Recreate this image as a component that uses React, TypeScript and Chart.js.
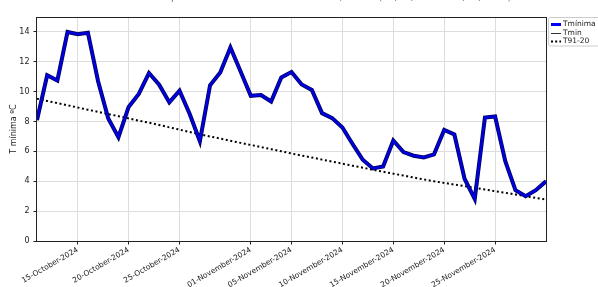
import React, { useEffect, useRef } from 'react';
import { Chart, registerables } from 'chart.js';
Chart.register(...registerables);

const days = [
  '11-Oct', '12-Oct', '13-Oct', '14-Oct', '15-Oct', '16-Oct', '17-Oct', '18-Oct', '19-Oct', '20-Oct',
  '21-Oct', '22-Oct', '23-Oct', '24-Oct', '25-Oct', '26-Oct', '27-Oct', '28-Oct', '29-Oct', '30-Oct',
  '31-Oct', '01-Nov', '02-Nov', '03-Nov', '04-Nov', '05-Nov', '06-Nov', '07-Nov', '08-Nov', '09-Nov',
  '10-Nov', '11-Nov', '12-Nov', '13-Nov', '14-Nov', '15-Nov', '16-Nov', '17-Nov', '18-Nov', '19-Nov',
  '20-Nov', '21-Nov', '22-Nov', '23-Nov', '24-Nov', '25-Nov', '26-Nov', '27-Nov', '28-Nov', '29-Nov',
  '30-Nov',
];

const tMinima = [
  8.1, 11.1, 10.75, 14.0, 13.85, 13.95, 10.7, 8.2, 6.95, 8.98,
  9.85, 11.25, 10.47, 9.28, 10.07, 8.5, 6.68, 10.43, 11.28, 12.96,
  11.35, 9.72, 9.78, 9.34, 10.95, 11.31, 10.48, 10.12, 8.56, 8.23,
  7.6, 6.5, 5.44, 4.86, 4.99, 6.73, 5.95, 5.71, 5.6, 5.8,
  7.44, 7.13, 4.17, 2.82, 8.27, 8.34, 5.35, 3.4, 3.0, 3.4,
  4.0,
];

const t9120 = [
  9.53, 9.38, 9.23, 9.09, 8.94, 8.79, 8.65, 8.5, 8.36, 8.21,
  8.06, 7.92, 7.77, 7.61, 7.46, 7.3, 7.14, 7.0, 6.86, 6.71,
  6.57, 6.43, 6.29, 6.15, 6.01, 5.86, 5.72, 5.59, 5.45, 5.32,
  5.18, 5.04, 4.91, 4.77, 4.64, 4.51, 4.38, 4.25, 4.12, 4.0,
  3.89, 3.78, 3.67, 3.56, 3.45, 3.33, 3.23, 3.12, 3.0, 2.89,
  2.78,
];

const tickDays = ['15-Oct', '20-Oct', '25-Oct', '01-Nov', '05-Nov', '10-Nov', '15-Nov', '20-Nov', '25-Nov'];
const tickLabels = [
  '15-October-2024', '20-October-2024', '25-October-2024', '01-November-2024', '05-November-2024',
  '10-November-2024', '15-November-2024', '20-November-2024', '25-November-2024',
];
const yTicks = [0, 2, 4, 6, 8, 10, 12, 14];
const seriesNames = ['Tmínima', 'Tmin', 'T91-20'];
const titleText = 'Evolución de la Temperatura mínima diaria en Madrid, Retiro (11/10/2024 - 30/11/2024)';
const yTitle = 'T mínima ºC';

const FONT = '"DejaVu Sans", sans-serif';

const decor = {
  id: 'decor',
  afterDraw(chart: any) {
    const { ctx, chartArea: a } = chart;
    ctx.save();
    // spines
    ctx.strokeStyle = '#222';
    ctx.lineWidth = 1;
    ctx.strokeRect(Math.round(a.left) - 0.5, Math.round(a.top) + 0.5, Math.round(a.right - a.left) + 1, Math.round(a.bottom - a.top));
    // title (almost entirely above the visible area)
    ctx.fillStyle = '#777';
    ctx.font = `10px ${FONT}`;
    ctx.textAlign = 'center';
    ctx.textBaseline = 'bottom';
    ctx.fillText(titleText, (a.left + a.right) / 2, 2);
    // y title
    ctx.save();
    ctx.fillStyle = '#222';
    ctx.translate(13.5, (a.top + a.bottom) / 2);
    ctx.rotate(-Math.PI / 2);
    ctx.font = `8px ${FONT}`;
    ctx.textAlign = 'center';
    ctx.textBaseline = 'middle';
    ctx.fillText(yTitle, 0, 0);
    ctx.restore();
    // legend
    const lx = 548.5, ly = 17.5;
    ctx.fillStyle = 'rgba(255,255,255,0.9)';
    ctx.strokeStyle = '#cccccc';
    ctx.lineWidth = 1;
    ctx.beginPath();
    (ctx as any).roundRect(lx, ly, 70, 28.5, 2);
    ctx.fill();
    ctx.stroke();
    const rows = [24.5, 33.5, 41.5];
    const styles = [
      { c: '#0000ff', w: 3, d: [] as number[] },
      { c: '#333333', w: 1, d: [] as number[] },
      { c: '#000000', w: 2, d: [2, 2.2] },
    ];
    ctx.font = `7.5px ${FONT}`;
    ctx.textAlign = 'left';
    ctx.textBaseline = 'middle';
    rows.forEach((ry, i) => {
      const s = styles[i];
      ctx.strokeStyle = s.c;
      ctx.lineWidth = s.w;
      ctx.setLineDash(s.d);
      ctx.beginPath();
      ctx.moveTo(551, ry);
      ctx.lineTo(561, ry);
      ctx.stroke();
      ctx.setLineDash([]);
      ctx.fillStyle = '#222';
      ctx.fillText(seriesNames[i], 563, ry);
    });
    ctx.restore();
  },
};

export default function App() {
  const ref = useRef<HTMLCanvasElement | null>(null);
  useEffect(() => {
    document.body.style.margin = '0';
    const tickIdx = tickDays.map((d) => days.indexOf(d));
    const chart = new Chart(ref.current as HTMLCanvasElement, {
      type: 'line',
      data: {
        datasets: [
          {
            label: seriesNames[0],
            data: tMinima.map((y, i) => ({ x: i, y })),
            borderColor: '#0000dd',
            borderWidth: 2.6,
            pointRadius: 0,
            tension: 0,
          },
          {
            label: seriesNames[1],
            data: tMinima.map((y, i) => ({ x: i, y })),
            borderColor: '#000050',
            borderWidth: 4,
            pointRadius: 0,
            tension: 0,
          },
          {
            label: seriesNames[2],
            data: t9120.map((y, i) => ({ x: i, y })),
            borderColor: '#000000',
            borderWidth: 2,
            borderDash: [2, 2.6],
            pointRadius: 0,
            tension: 0,
          },
        ],
      },
      options: {
        responsive: false,
        animation: false,
        events: [],
        layout: { padding: { top: 17, right: 52, left: 0, bottom: 0 } },
        plugins: { legend: { display: false }, title: { display: false }, tooltip: { enabled: false } },
        scales: {
          x: {
            type: 'linear',
            min: 0,
            max: days.length - 1,
            afterBuildTicks: (s: any) => {
              s.ticks = tickIdx.map((v) => ({ value: v }));
            },
            afterFit: (s: any) => {
              s.height = 46;
            },
            ticks: {
              autoSkip: false,
              maxRotation: 30,
              minRotation: 30,
              padding: 1,
              color: '#222',
              font: { family: FONT, size: 7.5 },
              callback: (_v: any, i: number) => tickLabels[i],
            },
            grid: { color: '#dddddd', tickColor: '#222', tickLength: 3.5 },
            border: { display: false },
          },
          y: {
            min: 0,
            max: 15,
            afterBuildTicks: (s: any) => {
              s.ticks = yTicks.map((v) => ({ value: v }));
            },
            afterFit: (s: any) => {
              s.width = 37;
            },
            ticks: {
              padding: 4,
              color: '#222',
              font: { family: FONT, size: 8 },
            },
            grid: { color: '#dddddd', tickColor: '#222', tickLength: 3.5 },
            border: { display: false },
          },
        },
      },
      plugins: [decor],
    });
    return () => chart.destroy();
  }, []);
  return (
    <div style={{ position: 'absolute', left: 0, top: 0, width: 598, height: 287 }}>
      <canvas ref={ref} width={598} height={287} />
    </div>
  );
}
